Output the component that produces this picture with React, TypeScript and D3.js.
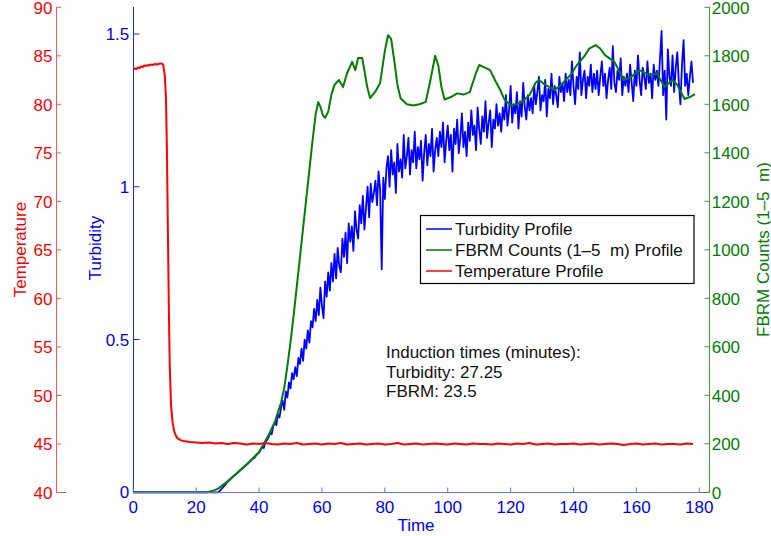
import React from 'react';
import * as d3 from 'd3';

const W = 771;
const H = 536;
const FONT = '"Liberation Sans", Arial, Helvetica, sans-serif';

const TIME_TICKS = [0, 20, 40, 60, 80, 100, 120, 140, 160, 180];
const TURB_TICKS = [0, 0.5, 1, 1.5];
const TEMP_TICKS = [40, 45, 50, 55, 60, 65, 70, 75, 80, 85, 90];
const FBRM_TICKS = [0, 200, 400, 600, 800, 1000, 1200, 1400, 1600, 1800, 2000];

const LEGEND_LABELS = ['Turbidity Profile', 'FBRM Counts (1\u20135  m) Profile', 'Temperature Profile'];
const LEGEND_COLORS = ['#0000ff', '#008000', '#ff0000'];
const NOTE_LINES = ['Induction times (minutes):', 'Turbidity: 27.25', 'FBRM: 23.5'];

// Turbidity: zero until induction, then sampled every 0.5 min from t = 27
const TURBIDITY_BASE: [number, number][] = [[0, 0], [27, 0]];
const TURBIDITY_START = 27;
const TURBIDITY_STEP = 0.5;
const TURBIDITY_VALUES = [
  0.0, 0.005, 0.01, 0.016, 0.022, 0.028, 0.034, 0.04, 0.045, 0.05, 0.054, 0.058, 0.062, 0.067, 0.072, 0.076, 0.08, 0.085, 0.09, 0.094,
  0.1, 0.105, 0.11, 0.112, 0.12, 0.126, 0.13, 0.14, 0.148, 0.145, 0.165, 0.17, 0.18, 0.195, 0.19, 0.215, 0.23, 0.22, 0.255, 0.245,
  0.28, 0.3, 0.27, 0.33, 0.31, 0.36, 0.34, 0.39, 0.37, 0.41, 0.38, 0.44, 0.42, 0.47, 0.43, 0.5, 0.47, 0.53, 0.49, 0.56,
  0.54, 0.6, 0.56, 0.63, 0.58, 0.67, 0.61, 0.57, 0.69, 0.64, 0.72, 0.66, 0.75, 0.69, 0.78, 0.7, 0.8, 0.74, 0.72, 0.83,
  0.77, 0.85, 0.75, 0.88, 0.82, 0.87, 0.79, 0.92, 0.86, 0.83, 0.94, 0.88, 0.97, 0.86, 0.93, 1.0, 0.9, 1.01, 0.95, 0.98,
  1.02, 0.94, 1.05, 0.99, 0.73, 1.03, 0.96, 1.06, 1.1, 1.0, 1.12, 1.04, 1.08, 0.98, 1.14, 1.05, 1.09, 1.03, 1.17, 1.06,
  1.1, 1.16, 1.04, 1.12, 1.08, 1.18, 1.06, 1.13, 1.09, 1.15, 1.02, 1.11, 1.17, 1.07, 1.14, 1.1, 1.19, 1.05, 1.12, 1.16,
  1.1, 1.18, 1.13, 1.21, 1.08, 1.15, 1.2, 1.12, 1.17, 1.05, 1.19, 1.14, 1.22, 1.11, 1.16, 1.24, 1.13, 1.18, 1.1, 1.21,
  1.15, 1.25, 1.17, 1.2, 1.12, 1.26, 1.19, 1.14, 1.23, 1.18, 1.28, 1.16, 1.21, 1.25, 1.13, 1.22, 1.19, 1.27, 1.2, 1.24,
  1.18, 1.26, 1.22, 1.3, 1.2, 1.25, 1.33, 1.21, 1.27, 1.24, 1.31, 1.19, 1.28, 1.23, 1.34, 1.26, 1.22, 1.3, 1.25, 1.29,
  1.24, 1.33, 1.27, 1.31, 1.36, 1.25, 1.3, 1.28, 1.35, 1.23, 1.32, 1.29, 1.37, 1.27, 1.33, 1.3, 1.26, 1.36, 1.31, 1.34,
  1.28, 1.37, 1.31, 1.35, 1.3, 1.41, 1.33, 1.27, 1.36, 1.32, 1.44, 1.3, 1.35, 1.38, 1.29, 1.36, 1.33, 1.4, 1.31, 1.37,
  1.32, 1.38, 1.3, 1.36, 1.41, 1.33, 1.37, 1.29, 1.35, 1.39, 1.32, 1.46, 1.34, 1.31, 1.38, 1.35, 1.42, 1.3, 1.36, 1.33,
  1.37, 1.31, 1.4, 1.34, 1.28, 1.38, 1.33, 1.43, 1.35, 1.3, 1.39, 1.36, 1.32, 1.41, 1.34, 1.37, 1.29, 1.4, 1.35, 1.38,
  1.33, 1.42, 1.51, 1.3, 1.38, 1.22, 1.45, 1.36, 1.33, 1.43, 1.31, 1.39, 1.44, 1.34, 1.27, 1.4, 1.48, 1.33, 1.37, 1.3,
  1.36, 1.41, 1.34,
];

// FBRM counts: [time, counts]
const FBRM: [number, number][] = [
  [0, 0], [23.5, 0], [25, 5], [27, 15], [30, 45], [33, 80], [36, 115], [40, 165], [43, 235], [45, 290], [46, 330],
  [47, 370], [48, 430], [49, 520], [50, 620], [51, 730], [52, 850], [53, 970], [54, 1090], [55, 1210], [56, 1330],
  [57, 1450], [58, 1560], [58.8, 1609], [59.5, 1590], [60.3, 1555], [61, 1544], [62, 1570], [63, 1640], [64, 1680],
  [64.8, 1692], [65.4, 1700], [66.7, 1671], [68, 1729], [69.6, 1775], [70.6, 1741], [71.5, 1791], [72.8, 1791],
  [74.4, 1671], [75.3, 1626], [76.9, 1651], [78.5, 1688], [80, 1820], [81, 1885], [82, 1870], [83, 1780], [84, 1680],
  [85, 1625], [87, 1600], [89, 1595], [91, 1600], [93, 1610], [94.5, 1700], [96, 1800], [97, 1760], [98, 1670],
  [99, 1620], [101, 1630], [103, 1645], [105, 1640], [107, 1650], [109, 1730], [110, 1762], [112, 1750],
  [113.5, 1741], [115, 1700], [116.7, 1659], [118, 1620], [120, 1597], [122, 1600], [124, 1615], [126, 1638],
  [128, 1690], [129, 1700], [131, 1680], [134, 1659], [136, 1680], [139, 1721], [141, 1760], [143.7, 1803],
  [145, 1830], [147, 1844], [148.5, 1830], [150, 1803], [153, 1775], [156, 1700], [158, 1710], [161, 1741],
  [164, 1721], [166.6, 1727], [168.9, 1671], [171.5, 1700], [173, 1680], [175.3, 1622], [177, 1630], [178.6, 1642],
];

// Temperature: [time, degrees]
const TEMPERATURE: [number, number][] = [
  [0, 83.6], [0.5, 83.7], [1, 83.65], [1.5, 83.8], [2, 83.75], [2.5, 83.9], [3, 83.85], [3.5, 84.0], [4, 83.95],
  [4.5, 84.05], [5, 84.0], [5.5, 84.1], [6, 84.05], [6.5, 84.1], [7, 84.15], [7.5, 84.1], [8, 84.15], [8.5, 84.2],
  [9, 84.2], [9.5, 84.1], [10, 83.0], [10.4, 80.6], [10.7, 75], [11, 67], [11.3, 59], [11.6, 53], [12, 49],
  [12.5, 47.2], [13, 46.3], [13.5, 45.9], [14, 45.6], [15, 45.4], [16, 45.3], [18, 45.2], [20, 45.15], [22, 45.1],
  [24, 45.15], [26, 45.05], [28, 45.1], [30, 45.0], [32, 45.1], [34, 45.05], [36, 44.95], [38, 45.05], [40, 45.0],
  [42, 45.1], [44, 45.0], [46, 44.95], [48, 45.05], [50, 45.0], [52, 45.1], [54, 44.95], [56, 45.0], [58, 45.05],
  [60, 44.95], [62, 45.05], [64, 45.0], [66, 45.1], [68, 44.95], [70, 45.0], [72, 45.05], [74, 44.95], [76, 45.0],
  [78, 45.05], [80, 44.95], [82, 45.0], [84, 45.1], [86, 44.95], [88, 45.0], [90, 45.05], [92, 44.95], [94, 45.0],
  [96, 45.05], [98, 45.0], [100, 44.95], [102, 45.05], [104, 45.0], [106, 44.95], [108, 45.05], [110, 45.0],
  [112, 45.0], [114, 44.95], [116, 45.05], [118, 45.0], [120, 44.95], [122, 45.05], [124, 45.0], [126, 45.1],
  [128, 44.95], [130, 45.0], [132, 45.05], [134, 44.95], [136, 45.0], [138, 45.0], [140, 45.05], [142, 44.95],
  [144, 45.0], [146, 45.05], [148, 44.95], [150, 45.0], [152, 45.05], [154, 45.0], [156, 44.9], [158, 45.0],
  [160, 45.05], [162, 44.95], [164, 45.0], [166, 45.05], [168, 44.95], [170, 45.0], [172, 45.0], [174, 44.95],
  [176, 45.05], [178, 45.0],
];

export default function App() {
  const x = d3.scaleLinear().domain([0, 180]).range([133.3, 699.3]);
  const yTurb = d3.scaleLinear().domain([0, 1.5]).range([492.3, 34]);
  const yF = d3.scaleLinear().domain([0, 2000]).range([492.3, 7.3]);
  const yT = d3.scaleLinear().domain([40, 90]).range([492.5, 7.3]);

  const turbPts: [number, number][] = [
    ...TURBIDITY_BASE,
    ...TURBIDITY_VALUES.map((v, i) => [TURBIDITY_START + i * TURBIDITY_STEP, v] as [number, number]),
  ];

  const turbLine = d3.line<[number, number]>().x(d => x(d[0])).y(d => yTurb(d[1]));
  const fLine = d3.line<[number, number]>().x(d => x(d[0])).y(d => yF(d[1]));
  const tLine = d3.line<[number, number]>().x(d => x(d[0])).y(d => yT(d[1]));

  const fmt = d3.format('~g');
  const top = 7;
  const bottom = 492.5;

  return (
    <svg
      width={W}
      height={H}
      viewBox={`0 0 ${W} ${H}`}
      style={{ position: 'absolute', left: 0, top: 0, background: '#fff' }}
      fontFamily={FONT}
      fontSize={17}
    >
      <rect x={0} y={0} width={W} height={H} fill="#fff" />

      {/* data */}
      <path d={turbLine(turbPts) || ''} fill="none" stroke="#0000ff" strokeWidth={1.8} strokeLinejoin="round" />
      <path d={fLine(FBRM) || ''} fill="none" stroke="#008000" strokeWidth={2} strokeLinejoin="round" />
      <path d={tLine(TEMPERATURE) || ''} fill="none" stroke="#ff0000" strokeWidth={2} strokeLinejoin="round" />

      {/* temperature axis */}
      <line x1={56.5} x2={56.5} y1={top} y2={bottom} stroke="#ff5555" strokeWidth={1} />
      <line x1={56.5} x2={66} y1={bottom} y2={bottom} stroke="#777" strokeWidth={1} />
      {TEMP_TICKS.map(t => (
        <g key={`tt${t}`}>
          <line x1={56.5} x2={61} y1={yT(t)} y2={yT(t)} stroke="#ff5555" strokeWidth={1} />
          <text x={52.5} y={yT(t) + 6.3} textAnchor="end" fill="#ff0000">{t}</text>
        </g>
      ))}
      <text transform={`translate(20,249.6) rotate(-90)`} y={6} textAnchor="middle" fill="#ff0000">Temperature</text>

      {/* turbidity axis */}
      <line x1={133.5} x2={133.5} y1={top} y2={bottom} stroke="#2222ff" strokeWidth={1} />
      {TURB_TICKS.map(t => (
        <g key={`tb${t}`}>
          <line x1={133.5} x2={139.5} y1={yTurb(t)} y2={yTurb(t)} stroke="#2222ff" strokeWidth={1} />
          <text x={129.3} y={yTurb(t) + 6} textAnchor="end" fill="#0000ff">{fmt(t)}</text>
        </g>
      ))}
      <text transform={`translate(95,248) rotate(-90)`} y={6} textAnchor="middle" fill="#0000ff">Turbidity</text>

      {/* x axis */}
      <line x1={133.5} x2={x(180)} y1={bottom} y2={bottom} stroke="#6b6bff" strokeWidth={1} />
      <line x1={x(180)} x2={709.5} y1={bottom} y2={bottom} stroke="#666" strokeWidth={1} />
      {TIME_TICKS.map(t => (
        <g key={`xt${t}`}>
          <line x1={x(t)} x2={x(t)} y1={bottom} y2={bottom - 5} stroke="#6b6bff" strokeWidth={1} />
          <text x={x(t)} y={513} textAnchor="middle" fill="#0000ff">{t}</text>
        </g>
      ))}
      <text x={416} y={531} textAnchor="middle" fill="#0000ff">Time</text>

      {/* FBRM axis */}
      <line x1={709.5} x2={709.5} y1={top} y2={bottom} stroke="#3a993a" strokeWidth={1} />
      {FBRM_TICKS.map(t => (
        <g key={`ft${t}`}>
          <line x1={704.5} x2={709.5} y1={yF(t)} y2={yF(t)} stroke="#3a993a" strokeWidth={1} />
          <text x={711.7} y={yF(t) + 6.3} textAnchor="start" fill="#008000">{t}</text>
        </g>
      ))}
      <text transform={`translate(762.5,249.6) rotate(-90)`} y={6} textAnchor="middle" fill="#008000" style={{ whiteSpace: 'pre' }}>
        {'FBRM Counts (1\u20135  m)'}
      </text>

      {/* legend */}
      <rect x={420.5} y={215.5} width={273.5} height={68} fill="#fff" stroke="#000" strokeWidth={1.2} />
      {LEGEND_LABELS.map((lab, i) => {
        const cy = 229 + i * 21;
        return (
          <g key={lab}>
            <line x1={426} x2={452} y1={cy} y2={cy} stroke={LEGEND_COLORS[i]} strokeWidth={1.5} />
            <text x={455} y={cy + 6} fill="#111" style={{ whiteSpace: 'pre' }}>{lab}</text>
          </g>
        );
      })}

      {/* annotation */}
      {NOTE_LINES.map((ln, i) => (
        <text key={ln} x={386} y={358 + i * 19.5} fill="#111">{ln}</text>
      ))}
    </svg>
  );
}
